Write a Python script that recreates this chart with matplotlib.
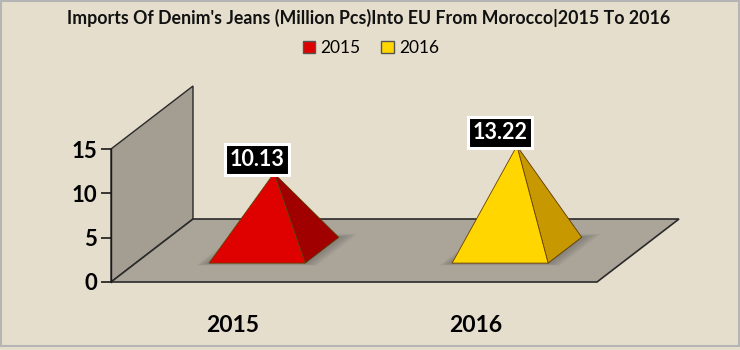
import matplotlib
matplotlib.use("Agg")
import matplotlib.pyplot as plt
from matplotlib.patches import Polygon, Rectangle, Patch

years = ["2015", "2016"]
imports = [10.13, 13.22]
front_colors = ["#df0000", "#ffd600"]
side_colors = ["#a00000", "#c89800"]
yticks = [0, 5, 10, 15]
title = "Imports Of Denim's Jeans (Million Pcs)Into EU From Morocco|2015 To 2016"

plt.rcParams['font.family'] = ['Lato', 'DejaVu Sans']

W, H = 740, 350
bg = "#e5decd"
fig = plt.figure(figsize=(W / 100, H / 100), dpi=100, facecolor=bg)

# front plane of the 3d box
ax = fig.add_axes([111 / W, (H - 282) / H, 486 / W, 133 / H])
ax.set_xlim(0, len(years))
ax.set_ylim(0, 15)
ax.patch.set_visible(False)

# oblique depth direction (full depth = 1)
ddx = 82 / 243
ddv = 63 * 15 / 133


def proj(x, v, z):
    return (x + z * ddx, v + z * ddv)


def poly(pts, **kw):
    p = Polygon([proj(*q) for q in pts], closed=True, clip_on=False, **kw)
    ax.add_patch(p)
    return p


# back wall and floor
poly([(0, 0, 0), (0, 15, 0), (0, 15, 1), (0, 0, 1)],
     facecolor="#a39d92", edgecolor="#2a2a2a", lw=1.0, zorder=1)
n = len(years)
poly([(0, 0, 0), (n, 0, 0), (n, 0, 1), (0, 0, 1)],
     facecolor="#aaa499", edgecolor="#2a2a2a", lw=1.2, zorder=1)

# pyramids
hw = 48 / 243
zf, zb = 0.30, 0.71
zc = (zf + zb) / 2
for i, val in enumerate(imports):
    c = i + 0.5
    # soft shadow
    for k in range(5):
        g = 0.008 * (5 - k)
        gz = 0.025 * (5 - k)
        poly([(c - hw - g, 0, zf - gz * 0.3), (c + hw + g * 1.5, 0, zf - gz * 0.3),
              (c + hw + g * 1.5, 0, zb + gz * 0.4), (c - hw - g, 0, zb + gz * 0.4)],
             facecolor="#3a3a3a", edgecolor="none", alpha=0.07, zorder=2)
    fl = proj(c - hw, 0, zf)
    fr = proj(c + hw, 0, zf)
    br = proj(c + hw, 0, zb)
    apex = (c + zc * ddx, val + zf * ddv)
    ax.add_patch(Polygon([fr, br, apex], closed=True, clip_on=False,
                         facecolor=side_colors[i], edgecolor="#5a3a00", lw=0.6, zorder=3))
    ax.add_patch(Polygon([fl, fr, apex], closed=True, clip_on=False,
                         facecolor=front_colors[i], edgecolor="#6a4000", lw=0.6, zorder=4))
    ax.text(c + zf * ddx, apex[1] + 0.35, f"{val:.2f}", ha="center", va="bottom",
            color="white", fontsize=15.5, fontweight="bold", zorder=6, clip_on=False,
            bbox=dict(boxstyle="square,pad=0.22", facecolor="black",
                      edgecolor="white", lw=2.2))

# axes styling
for s in ["top", "right", "bottom"]:
    ax.spines[s].set_visible(False)
ax.spines["left"].set_color("#1a1a1a")
ax.spines["left"].set_linewidth(1.0)
ax.spines["left"].set_zorder(5)
ax.set_yticks(yticks)
ax.set_yticklabels([str(t) for t in yticks], fontsize=16, fontweight="bold")
ax.tick_params(axis="y", length=7, width=1.2, color="#1a1a1a", pad=3)
ax.set_xticks([i + 0.5 for i in range(n)])
ax.set_xticklabels(years, fontsize=16.5, fontweight="bold")
ax.tick_params(axis="x", length=0, pad=24)

fig.text(369 / W, 1 - 18 / H, title, ha="center", va="center",
         fontsize=12.8, fontweight="bold", color="#111111")
handles = [Patch(facecolor=front_colors[i], edgecolor="#555555", label=y)
           for i, y in enumerate(years)]
fig.legend(handles=handles, loc="center", bbox_to_anchor=(371 / W, 1 - 48 / H),
           ncol=2, frameon=False, fontsize=12.5, handlelength=0.7, handleheight=0.7,
           handletextpad=0.3, columnspacing=1.2)

fig.patches.append(Rectangle((0.001, 0.012), 0.998, 0.984, transform=fig.transFigure,
                             fill=False, edgecolor="#b5b5b5", lw=1.5))

fig.savefig("out.png", dpi=100, facecolor=bg)
